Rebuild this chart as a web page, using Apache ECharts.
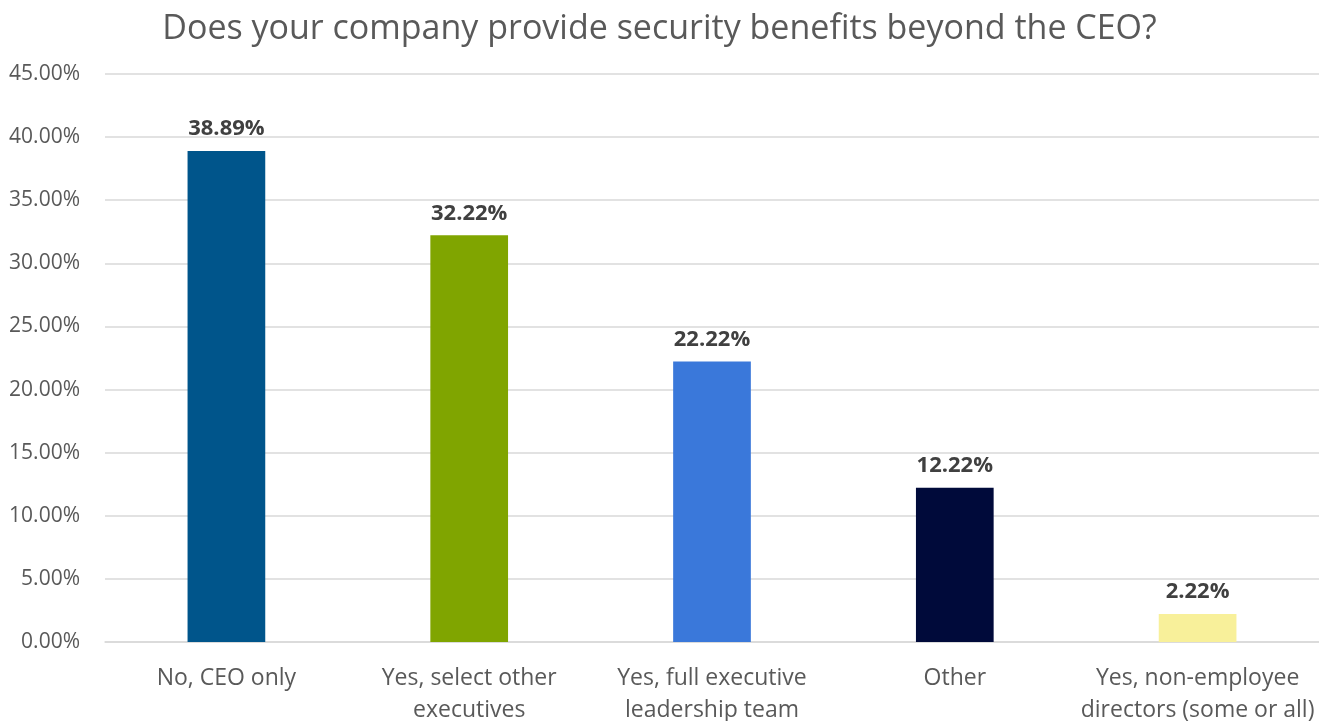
<!DOCTYPE html>
<html>
<head>
<meta charset="utf-8">
<script src="https://cdn.jsdelivr.net/npm/echarts@6/dist/echarts.min.js"></script>
<style>
  html, body { margin: 0; padding: 0; background: #fff; }
  #chart { width: 1319px; height: 721px; }
</style>
</head>
<body>
<div id="chart"></div>
<script>
// Survey responses: share of companies by scope of security benefits
const categories = [
  'No, CEO only',
  'Yes, select other\nexecutives',
  'Yes, full executive\nleadership team',
  'Other',
  'Yes, non-employee\ndirectors (some or all)'
];
const shares = [38.89, 32.22, 22.22, 12.22, 2.22];
const barColors = ['#00558B', '#80A500', '#3A78DA', '#000A3A', '#F8F09A'];
const yTicks = { min: 0, max: 45, interval: 5 };

const chart = echarts.init(document.getElementById('chart'));
const fontFamily = '"Open Sans", "Noto Sans", sans-serif';

chart.setOption({
  animation: false,
  title: {
    text: 'Does your company provide security benefits beyond the CEO?',
    left: 'center',
    top: 7,
    textStyle: { fontFamily, fontSize: 34, fontWeight: 'normal', color: '#595959' }
  },
  grid: {
    left: 105, right: 0, top: 74, bottom: 79,
    containLabel: false,
    outerBoundsMode: 'none'
  },
  xAxis: {
    type: 'category',
    data: categories,
    axisLine: { show: true, lineStyle: { color: '#d9d9d9', width: 1.5 } },
    axisTick: { show: false },
    axisLabel: {
      fontFamily, fontSize: 23, color: '#595959',
      margin: 20, lineHeight: 32, interval: 0
    }
  },
  yAxis: {
    type: 'value',
    min: yTicks.min, max: yTicks.max, interval: yTicks.interval,
    axisLine: { show: false },
    axisTick: { show: false },
    splitLine: { lineStyle: { color: '#d9d9d9', width: 1.5 } },
    axisLabel: {
      fontFamily, fontSize: 21, color: '#595959', margin: 25,
      formatter: v => v.toFixed(2) + '%'
    }
  },
  series: [{
    type: 'bar',
    barWidth: '32%',
    data: shares.map((v, i) => ({ value: v, itemStyle: { color: barColors[i] } })),
    label: {
      show: true,
      position: 'top',
      distance: 11,
      fontFamily, fontSize: 22, fontWeight: 'bold', color: '#404040',
      formatter: p => p.value.toFixed(2) + '%'
    }
  }]
});
</script>
</body>
</html>
